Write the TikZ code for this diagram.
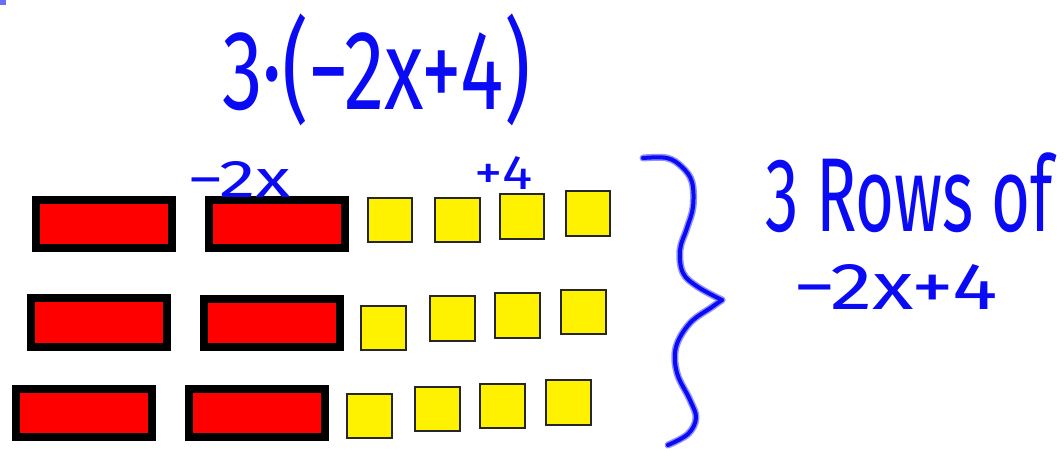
\documentclass[tikz,border=0pt]{standalone}
\usepackage{fontspec}
\setmainfont{Fira Sans}
\usepackage{graphicx}
\definecolor{ink}{RGB}{10,10,245}
\tikzset{
  redtile/.style={fill=red, draw=black, line width=8pt},
  unittile/.style={fill=yellow, draw=black!85, line width=1.6pt},
  inkline/.style={draw=ink, line width=4pt, line cap=round, line join=round},
  halo/.style={draw=ink!45, line width=7pt, line cap=round, line join=round},
  hand/.style={text=ink, inner sep=0pt, anchor=north west}
}
\newcommand{\fitbox}[3]{\resizebox*{#1}{#2}{#3}}
\begin{document}
\begin{tikzpicture}[x=1pt,y=-1pt]
\useasboundingbox (0,0) rectangle (1064,448);
\fill[white] (0,0) rectangle (1064,448);
% corner mark
\fill[ink!60] (0,0) rectangle (6,5);
% red x-tiles (outer extent given, border inset by 4)
\path[redtile] (36,200) rectangle (172,248);
\path[redtile] (209,200) rectangle (345,248);
\path[redtile] (31,298) rectangle (167,347);
\path[redtile] (204,299) rectangle (340,347);
\path[redtile] (16,389) rectangle (152,437);
\path[redtile] (189,389) rectangle (325,437);
% yellow unit tiles
\path[unittile] (368,198) rectangle (412,242);
\path[unittile] (435,198) rectangle (480,242);
\path[unittile] (500,194) rectangle (544,239);
\path[unittile] (566,191) rectangle (610,236);
\path[unittile] (361,306) rectangle (406,350);
\path[unittile] (430,296) rectangle (475,341);
\path[unittile] (495,293) rectangle (540,338);
\path[unittile] (561,290) rectangle (606,334);
\path[unittile] (347,394) rectangle (392,438);
\path[unittile] (415,387) rectangle (460,431);
\path[unittile] (480,384) rectangle (525,428);
\path[unittile] (546,380) rectangle (591,425);
% brace
\foreach \s in {halo,inkline}{
\draw[\s] plot[smooth, tension=0.6] coordinates {
 (643,158) (667,158) (682,167) (692,182) (693,207) (687,228) (680,250)
 (683,273) (698,287) (722,300)};
\draw[\s] plot[smooth, tension=0.6] coordinates {
 (722,300) (712,307) (690,323) (676,347) (677,373) (690,400)
 (696,418) (688,434) (668,445)};
}
% handwritten texts
\node[hand] (expr) at (222,14) {\fitbox{308pt}{112pt}{3·(−2x+4)}};
\node[hand] (mx) at (187,161) {\fitbox{104pt}{36pt}{−2x}};
\node[hand] (p4) at (474,156) {\fitbox{58pt}{33pt}{+4}};
\node[hand] (rows) at (765,153) {\fitbox{288pt}{80pt}{3 Rows of}};
\node[hand] (row) at (793,264) {\fitbox{205pt}{45pt}{−2x+4}};
\end{tikzpicture}
\end{document}
